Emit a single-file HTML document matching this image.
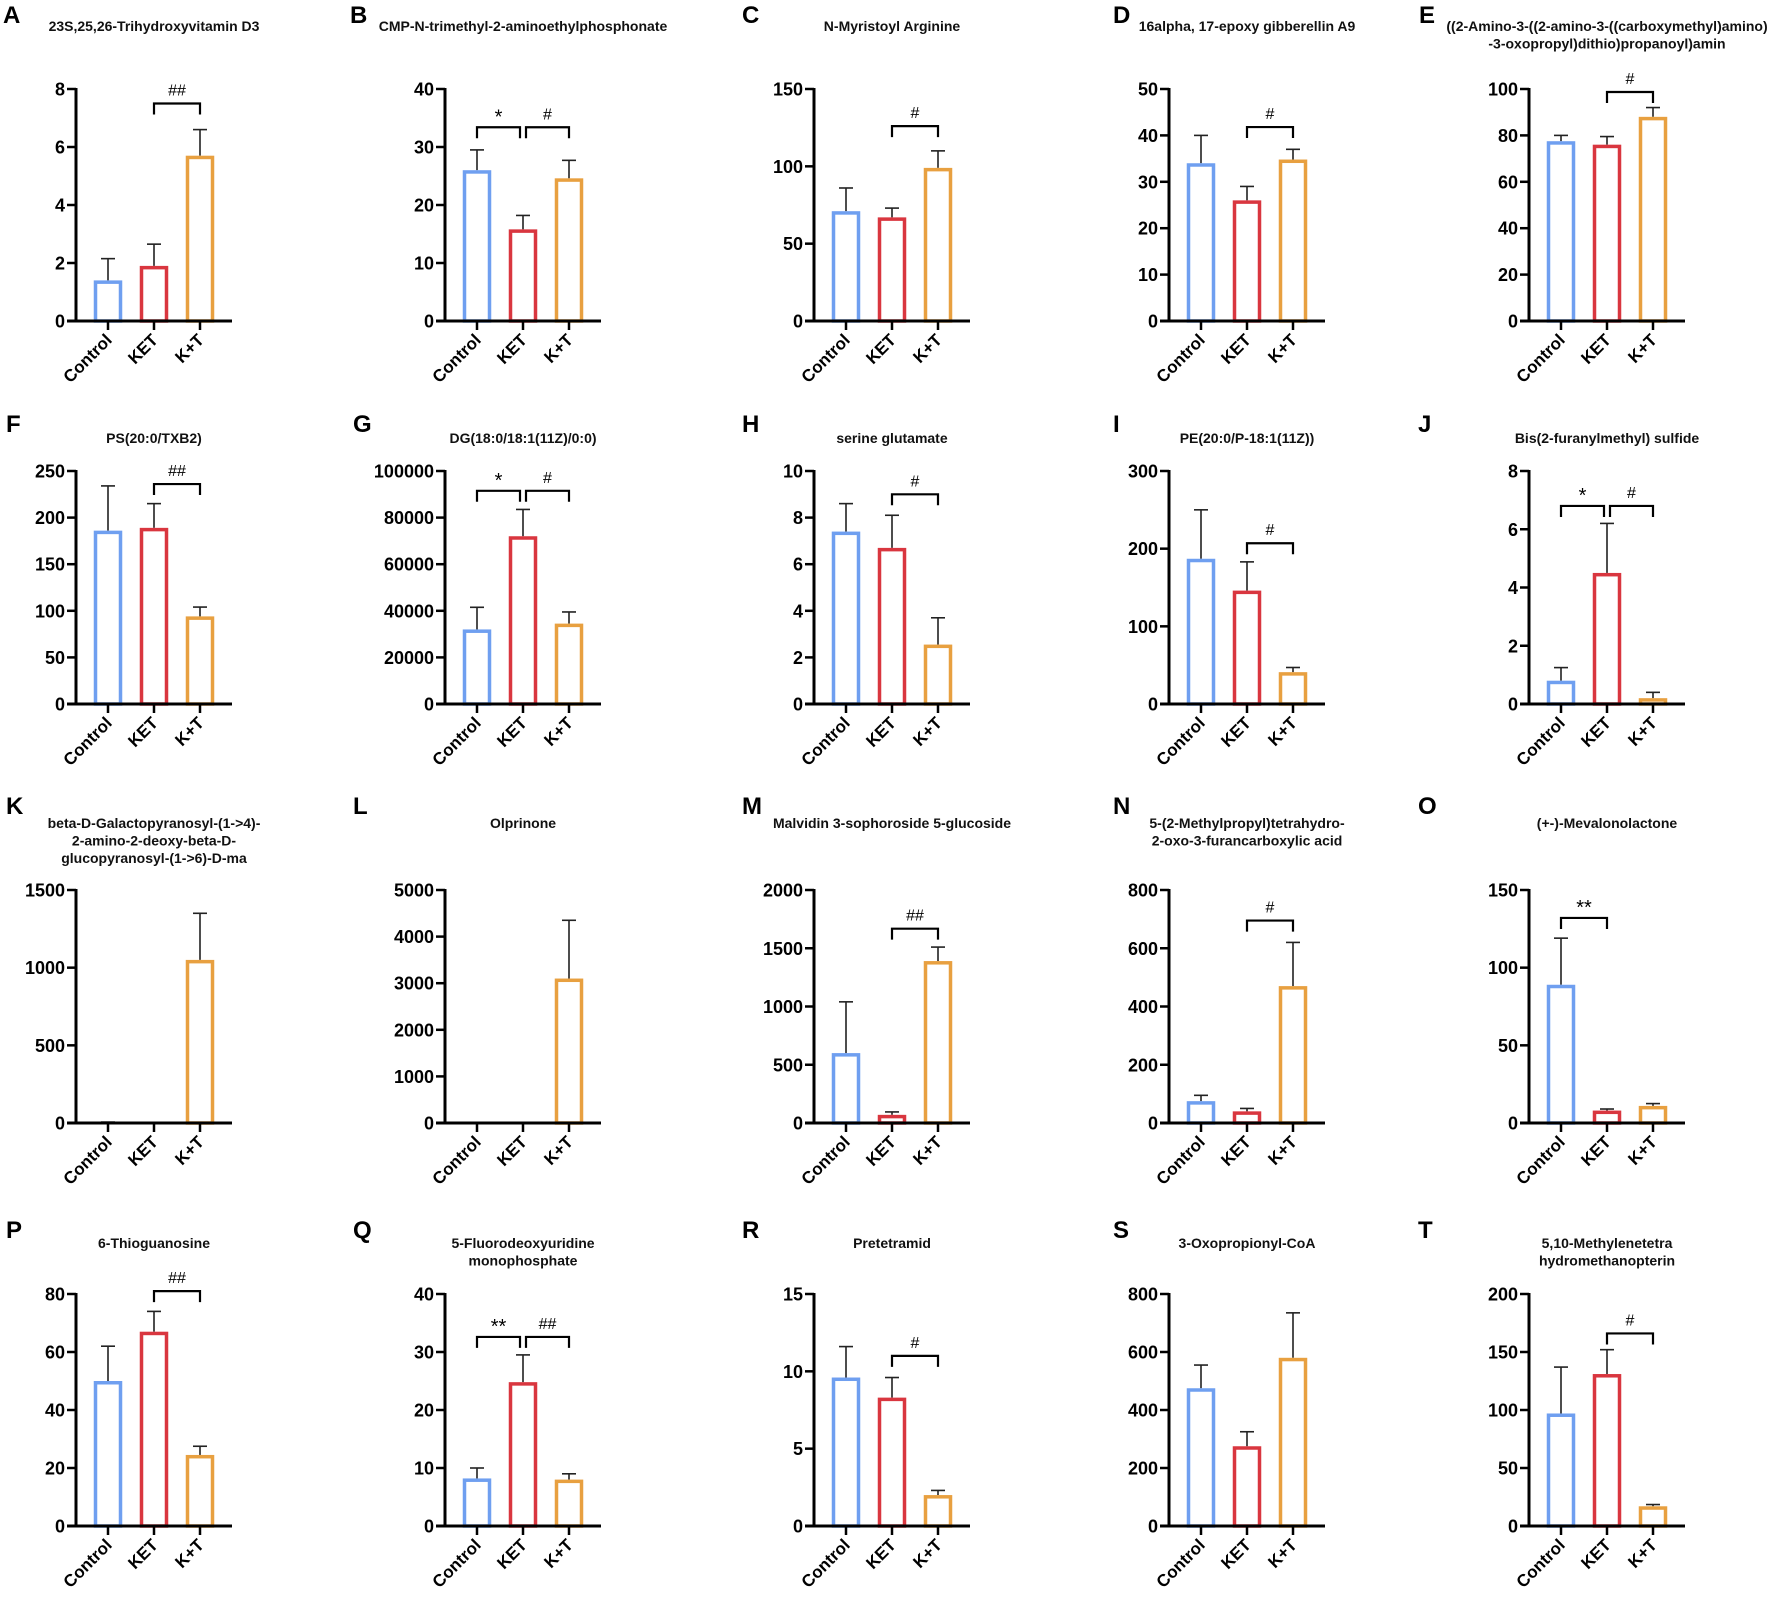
<!DOCTYPE html>
<html><head><meta charset="utf-8"><style>
html,body{margin:0;padding:0;background:#fff}
svg{display:block;font-family:"Liberation Sans",Arial,sans-serif}
</style></head><body>
<svg id="fig" width="1772" height="1597" viewBox="0 0 1772 1597"></svg>
<script>
const letters = ["A","B","C","D","E","F","G","H","I","J","K","L","M","N","O","P","Q","R","S","T"];
const titles = [
 ["23S,25,26-Trihydroxyvitamin D3"],["CMP-N-trimethyl-2-aminoethylphosphonate"],["N-Myristoyl Arginine"],["16alpha, 17-epoxy gibberellin A9"],["((2-Amino-3-((2-amino-3-((carboxymethyl)amino)","-3-oxopropyl)dithio)propanoyl)amin"],
 ["PS(20:0/TXB2)"],["DG(18:0/18:1(11Z)/0:0)"],["serine glutamate"],["PE(20:0/P-18:1(11Z))"],["Bis(2-furanylmethyl) sulfide"],
 ["beta-D-Galactopyranosyl-(1->4)-","2-amino-2-deoxy-beta-D-","glucopyranosyl-(1->6)-D-ma"],["Olprinone"],["Malvidin 3-sophoroside 5-glucoside"],["5-(2-Methylpropyl)tetrahydro-","2-oxo-3-furancarboxylic acid"],["(+-)-Mevalonolactone"],
 ["6-Thioguanosine"],["5-Fluorodeoxyuridine","monophosphate"],["Pretetramid"],["3-Oxopropionyl-CoA"],["5,10-Methylenetetra","hydromethanopterin"]
];
const categories = ["Control","KET","K+T"];
const yMax  = [8,40,150,50,100, 250,100000,10,300,8, 1500,5000,2000,800,150, 80,40,15,800,200];
const yStep = [2,10,50,10,20, 50,20000,2,100,2, 500,1000,500,200,50, 20,10,5,200,50];
const controlMean = [1.4,26,71,34,77.5, 186,32000,7.4,187,0.8, 5,0,600,75,89, 50,8.2,9.6,475,97];
const controlErr  = [2.15,29.5,86,40,80, 234,41500,8.6,250,1.25, 6,0,1040,95,119, 62,10,11.6,555,137];
const ketMean = [1.9,15.8,67,26,76, 189,72000,6.7,146,4.5, 0,0,70,40,8, 67,24.8,8.3,275,131];
const ketErr  = [2.65,18.2,73,29,79.5, 215,83500,8.1,183,6.2, 0,0,95,50,9, 74,29.5,9.6,325,152];
const ktMean = [5.7,24.6,99,34.8,88, 94,34500,2.55,41,0.2, 1050,3100,1390,470,11, 24.5,8,2,580,17];
const ktErr  = [6.6,27.7,110,37,92, 104,39500,3.7,47,0.4, 1350,4350,1510,620,12.5, 27.5,9,2.3,735,18.5];
// brackets: [panel, fromGroup, toGroup, level, label]
const brackets = [
 [0,1,2,7.5,"##"],[1,0,1,33.4,"*"],[1,1,2,33.4,"#"],[2,1,2,126,"#"],[3,1,2,41.8,"#"],[4,1,2,98.7,"#"],
 [5,1,2,236,"##"],[6,0,1,91500,"*"],[6,1,2,91500,"#"],[7,1,2,9.0,"#"],[8,1,2,207,"#"],[9,0,1,6.8,"*"],[9,1,2,6.8,"#"],
 [12,1,2,1668,"##"],[13,1,2,695,"#"],[14,0,1,132,"**"],
 [15,1,2,81,"##"],[16,0,1,32.6,"**"],[16,1,2,32.6,"##"],[17,1,2,11.0,"#"],[19,1,2,166,"#"]
];

const NS="http://www.w3.org/2000/svg";
const svg=document.getElementById('fig');
const colAxisX=[76,445,814,1169,1529];
const rowTop=[89,471,890,1294];
const rowZero=[321,704,1123,1526];
const letterX=[[3,350,742,1113,1419],[6,353,742,1113,1418],[6,353,742,1113,1418],[6,353,742,1113,1418]];
const letterBase=[23,432,814,1238];
const titleBase=[31,443,828,1248];
const colors=["#6f9ff0","#d9363f","#e8a040"];
const groupName=["control","ket","kt"];
function el(tag,attrs,parent){const e=document.createElementNS(NS,tag);for(const k in attrs)e.setAttribute(k,attrs[k]);(parent||svg).appendChild(e);return e;}

for(let p=0;p<20;p++){
  const r=Math.floor(p/5),c=p%5;
  const ax=colAxisX[c],top=rowTop[r],zero=rowZero[r];
  const yS=v=>zero-(v/yMax[p])*(zero-top);
  const xC=i=>ax+32+i*46;
  const g=el('g',{});
  
  
  const L=el('text',{x:letterX[r][c],y:letterBase[r],'font-size':24,'font-weight':'bold',fill:'#000'},g);
  L.textContent=letters[p];
  
  
  titles[p].forEach((t,i)=>{
    const T=el('text',{x:ax+78,y:titleBase[r]+i*17.5,'font-size':14,'font-weight':'bold','text-anchor':'middle',fill:'#111'},g);
    T.textContent=t;
    
    
  });
  const means=[controlMean[p],ketMean[p],ktMean[p]],errs=[controlErr[p],ketErr[p],ktErr[p]];
  for(let i=0;i<3;i++){
    const cx=xC(i),yt=yS(means[i]),ye=yS(errs[i]);
    if(errs[i]>means[i]){
      const e1=el('line',{x1:cx,x2:cx,y1:yt,y2:ye,stroke:'#222','stroke-width':1.6},g);
      
      
      const e2=el('line',{x1:cx-7,x2:cx+7,y1:ye,y2:ye,stroke:'#222','stroke-width':1.6},g);
      
      
    }
    const h=zero-yt;
    if(h>0.5){
      const b=el('rect',{x:cx-12.5,y:yt+1.75,width:25,height:Math.max(h-1.75,0),fill:'#fff',stroke:colors[i],'stroke-width':3.5},g);
      
      
    }
  }
  const ya=el('line',{x1:ax,x2:ax,y1:top-1,y2:zero+1.5,stroke:'#000','stroke-width':3},g);
  
  
  const xa=el('line',{x1:ax-9,x2:ax+156,y1:zero,y2:zero,stroke:'#000','stroke-width':3},g);
  
  
  for(let v=0;v<=yMax[p]+1e-9;v+=yStep[p]){
    const y=yS(v);
    const tk=el('line',{x1:ax-9,x2:ax,y1:y,y2:y,stroke:'#000','stroke-width':2.5},g);
    
    
    const tl=el('text',{x:ax-11,y:y+6.5,'font-size':18,'font-weight':'bold','text-anchor':'end',fill:'#000'},g);
    tl.textContent=String(v);
    
    
  }
  categories.forEach((cat,i)=>{
    const cx=xC(i);
    const tk=el('line',{x1:cx,x2:cx,y1:zero,y2:zero+9,stroke:'#000','stroke-width':2.5},g);
    
    
    const tl=el('text',{x:cx+5,y:zero+20,'font-size':17,'font-weight':'bold','text-anchor':'end',fill:'#000',transform:`rotate(-45 ${cx+5} ${zero+20})`},g);
    tl.textContent=cat;
    
    
  });
}
const pairCount={};
brackets.forEach(b=>{pairCount[b[0]]=(pairCount[b[0]]||0)+1;});
brackets.forEach(([p,a,bb,lev,lab])=>{
  const r=Math.floor(p/5),c=p%5;
  const ax=colAxisX[c],top=rowTop[r],zero=rowZero[r];
  const y=zero-(lev/yMax[p])*(zero-top);
  let x1=ax+32+a*46,x2=ax+32+bb*46;
  if(pairCount[p]>1){ if(a===0)x2-=3; else x1+=3; }
  const path=el('path',{d:`M${x1} ${y+11} V${y} H${x2} V${y+11}`,fill:'none',stroke:'#000','stroke-width':2.2});
  
  
  const isStar=lab.indexOf('*')>=0;
  const t=el('text',{x:(x1+x2)/2,y:isStar?y-4:y-8,'font-size':isStar?20:16,'text-anchor':'middle',fill:'#000'});
  t.textContent=lab;
  
  
});
</script>
</body></html>
